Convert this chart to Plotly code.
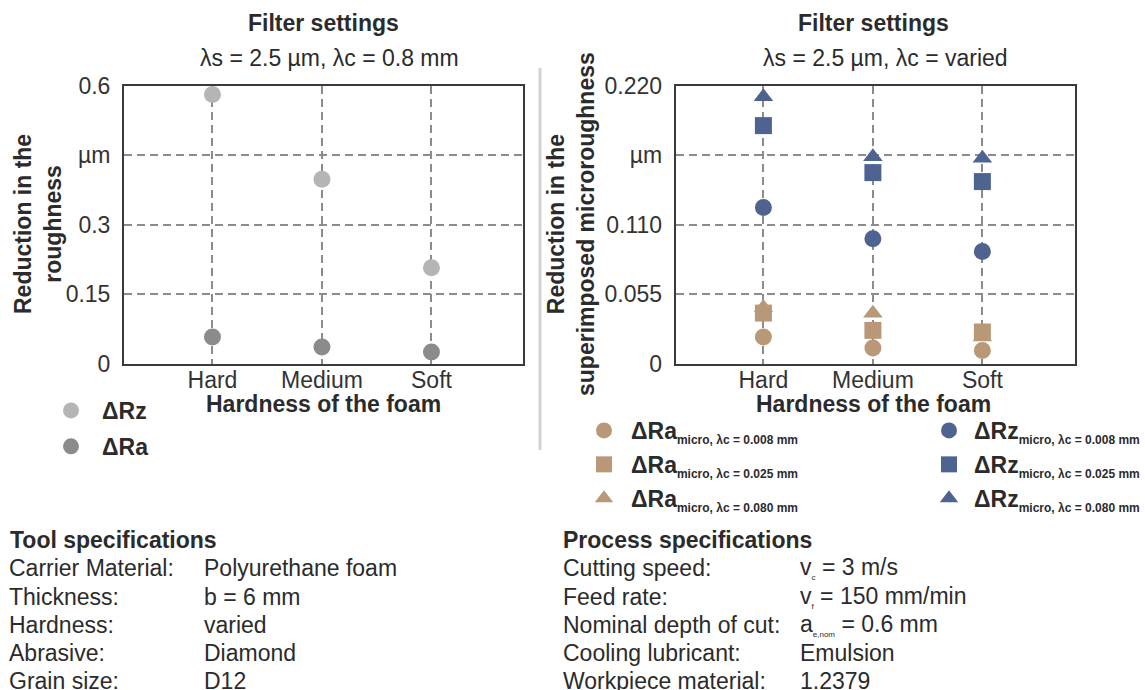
import plotly.graph_objects as go

FONT = "Liberation Sans, Arial, sans-serif"
W, H = 1145, 690

# ---- data -------------------------------------------------------------
hardness = ["Hard", "Medium", "Soft"]

# filter λs = 2.5 µm, λc = 0.8 mm (µm)
delta_rz = [0.581, 0.398, 0.207]
delta_ra = [0.0575, 0.036, 0.025]

# superimposed microroughness, λc varied (µm)
ra_micro_008 = [0.0211, 0.0124, 0.0103]
ra_micro_025 = [0.0400, 0.0263, 0.0250]
ra_micro_080 = [0.0444, 0.0399, 0.0210]
rz_micro_008 = [0.1236, 0.0988, 0.0888]
rz_micro_025 = [0.1884, 0.1512, 0.1441]
rz_micro_080 = [0.2112, 0.1638, 0.1625]

left_ticks = [0, 0.15, 0.3, 0.45, 0.6]
left_ticktext = ["0", "0.15", "0.3", "µm", "0.6"]
right_ticks = [0, 0.055, 0.11, 0.165, 0.22]
right_ticktext = ["0", "0.055", "0.110", "µm", "0.220"]

tool_keys = ["Carrier Material:", "Thickness:", "Hardness:", "Abrasive:", "Grain size:"]
tool_vals = ["Polyurethane foam", "b = 6 mm", "varied", "Diamond", "D12"]
process_keys = ["Cutting speed:", "Feed rate:", "Nominal depth of cut:",
                "Cooling lubricant:", "Workpiece material:"]
process_vals = ["v<sub><span style='font-size:8px'>c</span></sub> = 3 m/s",
                "v<sub><span style='font-size:8px'>f</span></sub> = 150 mm/min",
                "a<sub><span style='font-size:8px'>e,nom</span></sub> = 0.6 mm",
                "Emulsion", "1.2379"]

# ---- styling ----------------------------------------------------------
LIGHT_GREY = "#b5b5b5"
DARK_GREY = "#8b8b8b"
TAN = "#b89877"
BLUE = "#4f6391"
TEXT = "#2b2b2b"
MSIZE = 17


def px(x):
    return x / W


def py(y):
    return 1 - y / H


def micro_name(base, lam):
    return (f"<b>{base}<sub><span style='font-size:12px'>micro, λc = {lam} mm</span></sub></b>")


fig = go.Figure()

# left panel
fig.add_trace(go.Scatter(x=hardness, y=delta_rz, mode="markers", name="<b>ΔRz</b>",
                         marker=dict(color=LIGHT_GREY, size=MSIZE, symbol="circle"),
                         xaxis="x", yaxis="y", legend="legend", legendrank=1,
                         legendgroup="rz", cliponaxis=False))
fig.add_trace(go.Scatter(x=hardness, y=delta_ra, mode="markers", name="<b>ΔRa</b>",
                         marker=dict(color=DARK_GREY, size=MSIZE, symbol="circle"),
                         xaxis="x", yaxis="y", legend="legend", legendrank=2,
                         legendgroup="ra", cliponaxis=False))

# right panel: triangles drawn first, then squares, then circles
right_series = [
    (ra_micro_080, "ΔRa", "0.080", TAN, "triangle-up", "legend2", 3),
    (rz_micro_080, "ΔRz", "0.080", BLUE, "triangle-up", "legend3", 3),
    (ra_micro_025, "ΔRa", "0.025", TAN, "square", "legend2", 2),
    (rz_micro_025, "ΔRz", "0.025", BLUE, "square", "legend3", 2),
    (ra_micro_008, "ΔRa", "0.008", TAN, "circle", "legend2", 1),
    (rz_micro_008, "ΔRz", "0.008", BLUE, "circle", "legend3", 1),
]
for vals, base, lam, col, sym, leg, rank in right_series:
    fig.add_trace(go.Scatter(x=hardness, y=vals, mode="markers", name=micro_name(base, lam),
                             marker=dict(color=col, size=MSIZE, symbol=sym),
                             xaxis="x2", yaxis="y2", legend=leg, legendrank=rank,
                             legendgroup=f"{base}{lam}", cliponaxis=False))


def axis_common():
    return dict(showline=True, mirror=True, linecolor="#3a3a3a", linewidth=2,
                showgrid=True, gridcolor="#8c8c8c", gridwidth=1.5, griddash="8px,5px",
                zeroline=False, ticks="", fixedrange=True, automargin=False,
                tickfont=dict(family=FONT, size=23, color="#333333"))


Y_DOM = [py(363.6), py(85.7)]

legend_common = dict(xanchor="left", yanchor="top", bgcolor="rgba(0,0,0,0)",
                     font=dict(family=FONT, size=23, color=TEXT),
                     itemclick=False, itemdoubleclick=False)

fig.update_layout(
    width=W, height=H,
    margin=dict(l=0, r=0, t=0, b=0, autoexpand=False),
    paper_bgcolor="white", plot_bgcolor="white",
    font=dict(family=FONT, color=TEXT, size=23),
    xaxis=dict(axis_common(), domain=[px(124), px(523)], type="category",
               categoryorder="array", categoryarray=hardness,
               range=[-0.808, 2.836], anchor="y", ticklabelstandoff=-5),
    yaxis=dict(axis_common(), domain=Y_DOM, range=[0, 0.6], tickvals=left_ticks,
               ticktext=left_ticktext, anchor="x", ticklabelstandoff=7),
    xaxis2=dict(axis_common(), domain=[px(675.7), px(1075)], type="category",
                categoryorder="array", categoryarray=hardness,
                range=[-0.801, 2.846], anchor="y2", ticklabelstandoff=-5),
    yaxis2=dict(axis_common(), domain=Y_DOM, range=[0, 0.22], tickvals=right_ticks,
                ticktext=right_ticktext, anchor="x2", ticklabelstandoff=7),
    legend=dict(legend_common, x=px(40), y=py(389), tracegroupgap=3, itemwidth=52),
    legend2=dict(legend_common, x=px(577), y=py(409), tracegroupgap=1, itemwidth=44),
    legend3=dict(legend_common, x=px(924), y=py(409), tracegroupgap=1, itemwidth=40),
    showlegend=True,
)

annotations = []


def label(text, x, y, size=23, bold=False, xanchor="left", yanchor="middle", angle=0,
          color=TEXT):
    if bold:
        text = f"<b>{text}</b>"
    annotations.append(dict(text=text, x=px(x), y=py(y), xref="paper", yref="paper",
                            xanchor=xanchor, yanchor=yanchor, showarrow=False,
                            textangle=angle, align="center",
                            font=dict(family=FONT, size=size, color=color)))


# panel headings
label("Filter settings", 323, 23, bold=True, xanchor="center")
label("λs = 2.5 µm, λc = 0.8 mm", 329, 58, xanchor="center")
label("Filter settings", 873, 23, bold=True, xanchor="center")
label("λs = 2.5 µm, λc = varied", 885, 58, xanchor="center")

# axis titles
label("Reduction in the<br>roughness", 38, 224, bold=True, xanchor="center", angle=-90)
label("Reduction in the<br>superimposed microroughness", 571, 224, bold=True,
      xanchor="center", angle=-90)
label("Hardness of the foam", 323, 404, bold=True, xanchor="center")
label("Hardness of the foam", 873, 404, bold=True, xanchor="center")

# specification tables
label("Tool specifications", 8, 540, bold=True)
label("Process specifications", 561, 540, bold=True)
row_y = [568, 597, 625, 653, 681]
for ky, k, v in zip(row_y, tool_keys, tool_vals):
    label(k, 7, ky)
    label(v, 202, ky)
for ky, k, v in zip(row_y, process_keys, process_vals):
    label(k, 561, ky)
    label(v, 798, ky)

fig.update_layout(annotations=annotations)

# vertical separator between the two panels
fig.add_shape(type="line", xref="paper", yref="paper", x0=px(540), x1=px(540),
              y0=py(450), y1=py(68), line=dict(color="#d2d2d2", width=3))

fig.write_html("out.html")
